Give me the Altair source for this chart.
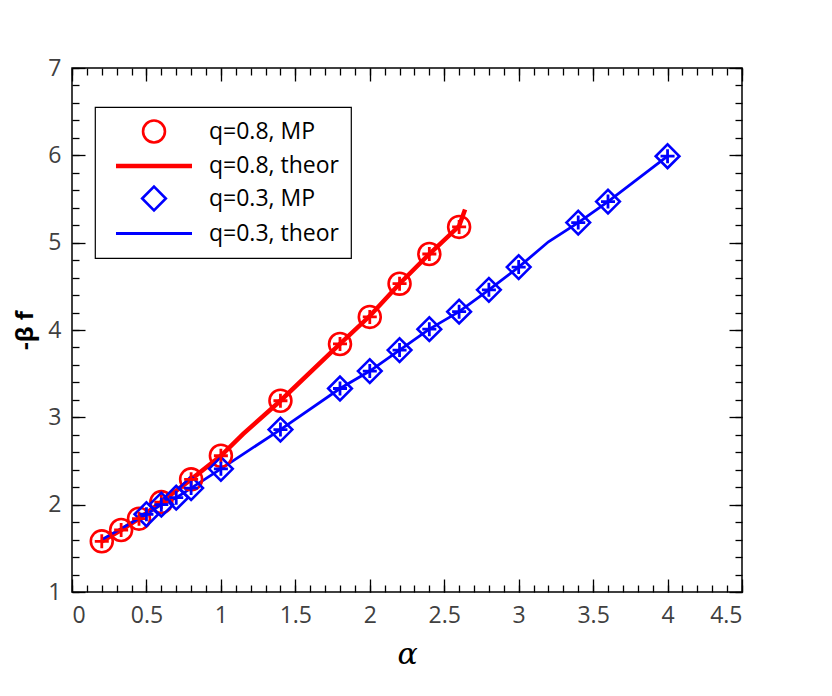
import altair as alt
import pandas as pd

SERIES = ["q=0.8, MP", "q=0.8, theor", "q=0.3, MP", "q=0.3, theor"]

# q=0.8 MP points
red_mp_x = [0.2, 0.33, 0.45, 0.6, 0.8, 1.0, 1.4, 1.8, 2.0, 2.2, 2.4, 2.6]
red_mp_y = [1.58, 1.71, 1.84, 2.03, 2.29, 2.56, 3.19, 3.84, 4.15, 4.53, 4.87, 5.18]
# q=0.8 theory
red_th_x = [0.2, 0.33, 0.45, 0.6, 0.8, 1.0, 1.15, 1.4, 1.8, 2.0, 2.2, 2.4, 2.6, 2.64]
red_th_y = [1.58, 1.71, 1.84, 2.03, 2.29, 2.56, 2.81, 3.19, 3.84, 4.16, 4.53, 4.87, 5.19, 5.38]
# q=0.3 MP points
blue_mp_x = [0.5, 0.6, 0.7, 0.8, 1.0, 1.4, 1.8, 2.0, 2.2, 2.4, 2.6, 2.8, 3.0, 3.4, 3.6, 4.0]
blue_mp_y = [1.89, 2.0, 2.08, 2.19, 2.41, 2.86, 3.33, 3.53, 3.77, 4.01, 4.21, 4.46, 4.72, 5.23, 5.47, 5.99]
# q=0.3 theory
blue_th_x = [0.2, 0.5, 0.6, 0.7, 0.8, 1.0, 1.4, 1.8, 2.0, 2.2, 2.4, 2.6, 2.8, 3.0, 3.2, 3.4, 3.6, 4.0]
blue_th_y = [1.6, 1.89, 2.0, 2.08, 2.19, 2.41, 2.86, 3.33, 3.53, 3.77, 4.01, 4.21, 4.46, 4.72, 5.01, 5.23, 5.47, 5.99]

x_major = [0, 0.5, 1, 1.5, 2, 2.5, 3, 3.5, 4, 4.5]
x_minor = [round(i * 0.1, 1) for i in range(46)]
y_major = [1, 2, 3, 4, 5, 6, 7]
y_minor = [round(1 + i * 0.2, 1) for i in range(31)]

rows = []
for xs, ys, s in [(red_mp_x, red_mp_y, SERIES[0]), (red_th_x, red_th_y, SERIES[1]),
                  (blue_mp_x, blue_mp_y, SERIES[2]), (blue_th_x, blue_th_y, SERIES[3])]:
    for a, b in zip(xs, ys):
        rows.append({"x": a, "y": b, "series": s,
                     "pc": "#ff0000" if s.startswith("q=0.8") else "#0000ff"})
df = pd.DataFrame(rows)

xs_ = alt.Scale(domain=[0, 4.5], nice=False, zero=False)
ys_ = alt.Scale(domain=[1, 7], nice=False, zero=False)

LINE_SYM = "M-3,0L3,0"
color_s = alt.Scale(type="ordinal", domain=SERIES, range=["#ff0000", "#ff0000", "#0000ff", "#0000ff"])
shape_s = alt.Scale(type="ordinal", domain=SERIES, range=["circle", LINE_SYM, "diamond", LINE_SYM])
size_s = alt.Scale(type="ordinal", domain=SERIES, range=[480, 642, 560, 642])
sw_s = alt.Scale(type="ordinal", domain=SERIES, range=[2.6, 4.5, 2.6, 2.8])

MAJ, MIN = 13, 7
LBL = dict(labelFont="Open Sans", labelFontSize=23, labelColor="#404040")


def ax(orient, values, size, labels=False, title=None, **kw):
    d = dict(orient=orient, values=values, tickSize=size, offset=-size, domain=False,
             grid=False, labels=labels, tickColor="black", tickWidth=1.3)
    if labels:
        d.update(LBL)
        d["format"] = "~g"
    d.update(kw)
    return alt.Axis(title=title, **d)


base = alt.Chart(df)
leg = alt.Legend(title=None)

red_line = base.transform_filter(alt.datum.series == SERIES[1]).mark_line().encode(
    x=alt.X("x:Q", scale=xs_, axis=ax("bottom", x_major, MAJ, labels=True, title="α",
                                      labelPadding=12, titleFont="DejaVu Serif",
                                      titleFontStyle="italic", titleFontWeight="normal",
                                      titleFontSize=30, titlePadding=12)),
    y=alt.Y("y:Q", scale=ys_, axis=ax("left", y_major, MAJ, labels=True, title="-β f",
                                      labelPadding=11, titleFont="Open Sans",
                                      titleFontWeight="bold", titleFontSize=24,
                                      titlePadding=10)),
    color=alt.Color("series:N", scale=color_s, legend=leg),
    strokeWidth=alt.StrokeWidth("series:N", scale=sw_s, legend=leg),
    order="x:Q",
)

blue_line = base.transform_filter(alt.datum.series == SERIES[3]).mark_line().encode(
    x=alt.X("x:Q", scale=xs_, axis=ax("bottom", x_minor, MIN)),
    y=alt.Y("y:Q", scale=ys_, axis=ax("left", y_minor, MIN)),
    color=alt.Color("series:N", scale=color_s, legend=leg),
    strokeWidth=alt.StrokeWidth("series:N", scale=sw_s, legend=leg),
    order="x:Q",
)

red_pts = base.transform_filter(alt.datum.series == SERIES[0]).mark_point(filled=False, opacity=1).encode(
    x=alt.X("x:Q", scale=xs_, axis=ax("top", x_major, MAJ)),
    y=alt.Y("y:Q", scale=ys_, axis=ax("right", y_major, MAJ)),
    color=alt.Color("series:N", scale=color_s, legend=leg),
    shape=alt.Shape("series:N", scale=shape_s, legend=leg),
    size=alt.Size("series:N", scale=size_s, legend=leg),
    strokeWidth=alt.StrokeWidth("series:N", scale=sw_s, legend=leg),
)

blue_pts = base.transform_filter(alt.datum.series == SERIES[2]).mark_point(filled=False, opacity=1).encode(
    x=alt.X("x:Q", scale=xs_, axis=ax("top", x_minor, MIN)),
    y=alt.Y("y:Q", scale=ys_, axis=ax("right", y_minor, MIN)),
    color=alt.Color("series:N", scale=color_s, legend=leg),
    shape=alt.Shape("series:N", scale=shape_s, legend=leg),
    size=alt.Size("series:N", scale=size_s, legend=leg),
    strokeWidth=alt.StrokeWidth("series:N", scale=sw_s, legend=leg),
)

plus = base.transform_filter(
    (alt.datum.series == SERIES[0]) | (alt.datum.series == SERIES[2])
).mark_point(shape="M-1,0L1,0M0,-1L0,1", size=196, strokeWidth=2.8, filled=False, opacity=1).encode(
    x=alt.X("x:Q", scale=xs_, axis=None),
    y=alt.Y("y:Q", scale=ys_, axis=None),
    stroke=alt.Stroke("pc:N", scale=None),
)

chart = alt.layer(red_line, blue_line, red_pts, blue_pts, plus).resolve_scale(
    x="shared", y="shared"
).resolve_axis(x="independent", y="independent").properties(
    width=670, height=524,
    autosize=alt.AutoSizeParams(type="none"),
    padding={"left": 72, "top": 68, "right": 90, "bottom": 104},
    background="white",
).configure_view(stroke="black", strokeWidth=1.5).configure_legend(
    orient="none", legendX=23, legendY=39, fillColor="white", strokeColor="black",
    strokeWidth=1.2, padding=12, labelFont="Open Sans", labelFontSize=23, labelColor="black",
    rowPadding=3, symbolOffset=32, labelOffset=40, symbolStrokeWidth=2.6,
)

chart.save("out.html", embed_options={"renderer": "svg", "actions": False})
